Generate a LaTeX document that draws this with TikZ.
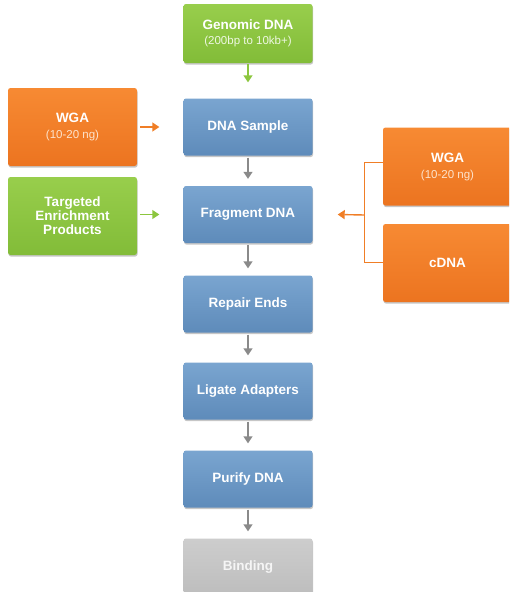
\documentclass[tikz,border=0pt]{standalone}
\usepackage{fontspec}
\setmainfont{Liberation Sans}
\usetikzlibrary{arrows.meta,shadows}
\definecolor{bluetop}{HTML}{7AA5D0}
\definecolor{bluebot}{HTML}{5E8BBA}
\definecolor{orgtop}{HTML}{F78A33}
\definecolor{orgbot}{HTML}{EC7420}
\definecolor{grntop}{HTML}{98CE4C}
\definecolor{grnbot}{HTML}{82BC38}
\definecolor{grytop}{HTML}{CDCDCD}
\definecolor{grybot}{HTML}{BDBDBD}
\definecolor{orgline}{HTML}{F07E26}
\definecolor{grnline}{HTML}{8CC63E}
\definecolor{gryline}{HTML}{8A8A8A}
\definecolor{orgsub}{HTML}{FDE3CC}
\definecolor{grnsub}{HTML}{EEF7E2}
\newcommand{\subfont}{\fontsize{11.5}{13}\selectfont\mdseries}
\tikzset{
  box/.style={rounded corners=2.5pt, text=white, align=center,
    font=\fontsize{13.5}{14}\selectfont\bfseries, inner sep=0pt,
    drop shadow={shadow xshift=0.6pt, shadow yshift=-1.6pt, opacity=0.45}},
  midbox/.style={box, minimum width=129pt, minimum height=57pt},
  sidebox/.style={box, minimum width=129pt, minimum height=78pt},
  bluebox/.style={midbox, top color=bluetop, bottom color=bluebot},
  graybox/.style={midbox, top color=grytop, bottom color=grybot, text=white!92!gray},
  orangebox/.style={sidebox, top color=orgtop, bottom color=orgbot},
  greenbox/.style={top color=grntop, bottom color=grnbot},
  flow/.style={line width=1.4pt, -{Triangle[width=9pt,length=7pt]}},
}
\begin{document}
\begin{tikzpicture}[x=1pt,y=-1pt]
\useasboundingbox (0,0) rectangle (509,592);
\clip (0,0) rectangle (509,592);
% centre column
\node[midbox, greenbox, minimum height=59pt] (gen) at (248,33.5)
  {Genomic DNA\\[1pt]{\subfont\color{grnsub}(200bp to 10kb+)}};
\node[bluebox] (samp) at (248,127) {DNA Sample};
\node[bluebox] (frag) at (248,214.5) {Fragment DNA};
\node[bluebox] (rep) at (248,304) {Repair Ends};
\node[bluebox] (lig) at (248,391) {Ligate Adapters};
\node[bluebox] (pur) at (248,479) {Purify DNA};
\node[graybox] (bind) at (248,567) {Binding};
% left column
\node[orangebox] (wgal) at (72.5,127)
  {WGA\\[2pt]{\subfont\color{orgsub}(10-20 ng)}};
\node[sidebox, greenbox] (targ) at (72.5,216) {Targeted\\Enrichment\\Products};
% right column
\node[orangebox] (wgar) at (447.5,166.5)
  {WGA\\[2pt]{\subfont\color{orgsub}(10-20 ng)}};
\node[orangebox] (cdna) at (447.5,263) {cDNA};
% flow arrows
\draw[flow, grnline] ([yshift=-1pt]gen.south) -- ([yshift=16pt]samp.north);
\foreach \a/\b in {samp/frag, frag/rep, rep/lig, lig/pur, pur/bind}
  \draw[flow, gryline] ([yshift=-2pt]\a.south) -- ([yshift=7pt]\b.north);
% side arrows
\draw[flow, orgline] ([xshift=3pt]wgal.east) -- ([xshift=-24pt]samp.west);
\draw[flow, grnline] ([xshift=3pt]targ.east |- frag.west) -- ([xshift=-24pt]frag.west);
\coordinate (brtop) at (364,162);
\coordinate (brbot) at (364,262);
\coordinate (br) at (364,215);
\draw[line width=1pt, orgline] (wgar.west |- brtop) -- (brtop) -- (brbot) -- (cdna.west |- brbot);
\draw[flow, orgline] ([xshift=0.5pt]br) -- ([xshift=25pt]frag.east);
\end{tikzpicture}
\end{document}
